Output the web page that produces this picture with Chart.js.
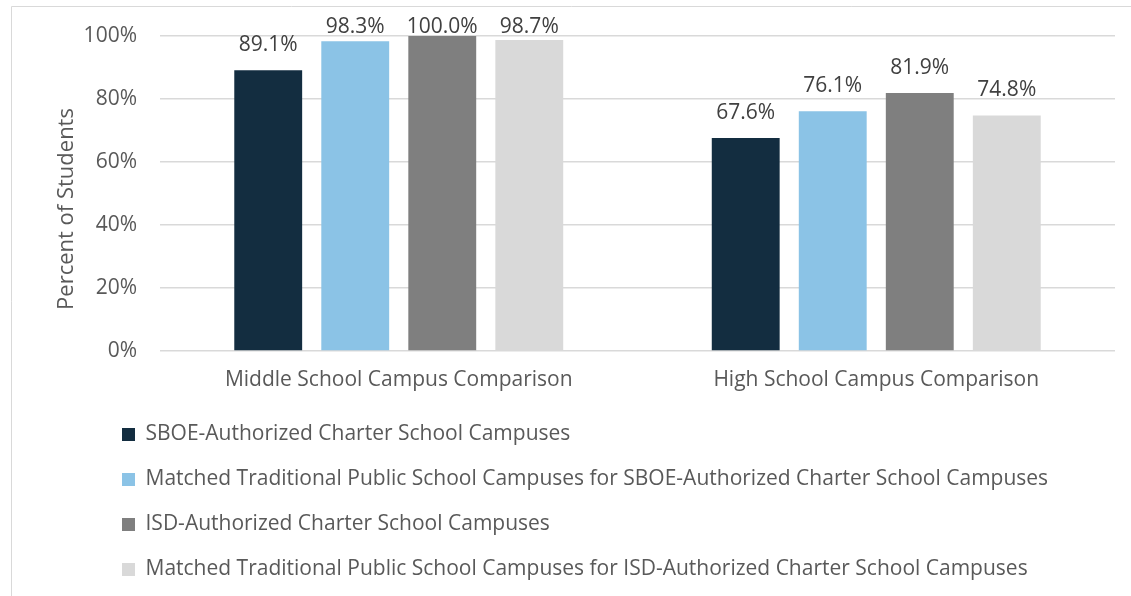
<!DOCTYPE html>
<html>
<head>
<meta charset="utf-8">
<script src="https://cdn.jsdelivr.net/npm/chart.js@4.4.1/dist/chart.umd.min.js"></script>
<style>
  html, body { margin: 0; padding: 0; background: #fff; }
  #wrap { width: 1131px; height: 596px; position: relative; }
</style>
</head>
<body>
<div id="wrap"><canvas id="c" width="1131" height="596"></canvas></div>
<script>
const categories = ["Middle School Campus Comparison", "High School Campus Comparison"];
const seriesNames = [
  "SBOE-Authorized Charter School Campuses",
  "Matched Traditional Public School Campuses for SBOE-Authorized Charter School Campuses",
  "ISD-Authorized Charter School Campuses",
  "Matched Traditional Public School Campuses for ISD-Authorized Charter School Campuses"
];
const sboeCharter = [89.1, 67.6];
const sboeMatched = [98.3, 76.1];
const isdCharter = [100.0, 81.9];
const isdMatched = [98.7, 74.8];
const yTicks = [0, 20, 40, 60, 80, 100];
const yAxisTitle = "Percent of Students";

const colors = ["#132d40", "#8bc3e6", "#7f7f7f", "#d9d9d9"];
const FONT = "'Open Sans'";
const FS = 21;

const valueLabels = {
  id: 'valueLabels',
  afterDatasetsDraw(chart) {
    const ctx = chart.ctx;
    ctx.save();
    ctx.font = FS + "px " + FONT;
    ctx.fillStyle = "#404040";
    ctx.textAlign = "center";
    ctx.textBaseline = "alphabetic";
    chart.data.datasets.forEach((ds, i) => {
      const meta = chart.getDatasetMeta(i);
      meta.data.forEach((bar, j) => {
        const y = Math.max(bar.y - 19, chart.chartArea.top - 3);
        ctx.fillText(ds.data[j].toFixed(1) + "%", bar.x, y);
      });
    });
    ctx.restore();
  }
};

const frameAndTitle = {
  id: 'frameAndTitle',
  beforeDraw(chart) {
    const ctx = chart.ctx;
    ctx.save();
    ctx.strokeStyle = "#d9d9d9";
    ctx.lineWidth = 1;
    ctx.beginPath();
    ctx.moveTo(11.5, 700);
    ctx.lineTo(11.5, 6.5);
    ctx.lineTo(1200, 6.5);
    ctx.stroke();
    ctx.restore();
  },
  afterDraw(chart) {
    const ctx = chart.ctx;
    ctx.save();
    ctx.font = "22px " + FONT;
    ctx.fillStyle = "#595959";
    ctx.textAlign = "center";
    ctx.textBaseline = "middle";
    ctx.translate(67, 209);
    ctx.rotate(-Math.PI / 2);
    ctx.fillText(yAxisTitle, 0, 0);
    ctx.restore();
  },
  afterLayout(chart) {
    const lg = chart.legend;
    if (!lg) return;
    const dx = 98 - lg.left;
    const dy = 400 - lg.top;
    lg.left += dx; lg.right += dx;
    lg.top += dy; lg.bottom += dy;
  }
};

new Chart(document.getElementById('c'), {
  type: 'bar',
  data: {
    labels: categories,
    datasets: seriesNames.map((name, i) => ({
      label: name,
      data: [sboeCharter, sboeMatched, isdCharter, isdMatched][i],
      backgroundColor: colors[i],
      borderWidth: 0,
      categoryPercentage: 0.729,
      barPercentage: 0.78
    }))
  },
  options: {
    responsive: false,
    animation: false,
    devicePixelRatio: 1,
    layout: { padding: { top: 36, left: 0, right: 16, bottom: 15 } },
    plugins: {
      legend: {
        position: 'bottom',
        align: 'start',
        labels: {
          font: { family: FONT, size: FS },
          color: "#595959",
          boxWidth: 13,
          boxHeight: 13,
          padding: 24
        }
      },
      tooltip: { enabled: false }
    },
    scales: {
      x: {
        grid: { display: false, drawTicks: false },
        border: { display: false },
        ticks: { font: { family: FONT, size: FS }, color: "#595959", padding: 16 },
        afterFit(s) { s.height = 40; }
      },
      y: {
        min: 0, max: 100,
        afterBuildTicks(s) { s.ticks = yTicks.map(v => ({ value: v })); },
        grid: { color: "#d9d9d9", lineWidth: 1.5, drawTicks: false },
        border: { display: false },
        ticks: {
          font: { family: FONT, size: FS }, color: "#595959", padding: 23,
          callback: v => v + "%"
        },
        afterFit(s) { s.width = 160; }
      }
    }
  },
  plugins: [valueLabels, frameAndTitle]
});
</script>
</body>
</html>
